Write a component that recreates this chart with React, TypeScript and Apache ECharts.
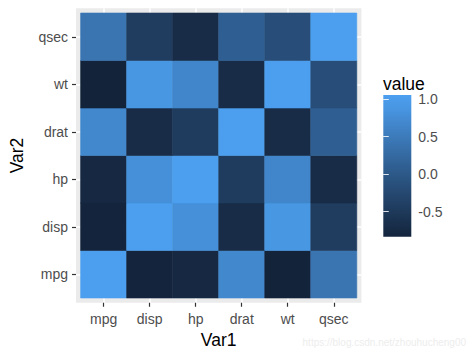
import React, { useEffect, useRef } from "react";
import * as echarts from "echarts";

const vars = ["mpg", "disp", "hp", "drat", "wt", "qsec"];
const corMpg = [1, -0.848, -0.776, 0.681, -0.868, 0.419];
const corDisp = [-0.848, 1, 0.791, -0.710, 0.888, -0.434];
const corHp = [-0.776, 0.791, 1, -0.449, 0.659, -0.708];
const corDrat = [0.681, -0.710, -0.449, 1, -0.712, 0.091];
const corWt = [-0.868, 0.888, 0.659, -0.712, 1, -0.175];
const corQsec = [0.419, -0.434, -0.708, 0.091, -0.175, 1];
const corRows = [corMpg, corDisp, corHp, corDrat, corWt, corQsec];
const legendTicks = [-0.5, 0, 0.5, 1];

const LOW = "#13233A";
const HIGH = "#4C9FEF";

function hexToRgb(h: string) {
  const n = parseInt(h.slice(1), 16);
  return [(n >> 16) & 255, (n >> 8) & 255, n & 255];
}
function toLin(c: number) {
  c /= 255;
  return c <= 0.04045 ? c / 12.92 : Math.pow((c + 0.055) / 1.055, 2.4);
}
function fromLin(c: number) {
  const v = c <= 0.0031308 ? 12.92 * c : 1.055 * Math.pow(c, 1 / 2.4) - 0.055;
  return Math.max(0, Math.min(255, Math.round(v * 255)));
}
const Xn = 0.95047, Yn = 1.0, Zn = 1.08883;
function f(t: number) {
  return t > 0.008856 ? Math.cbrt(t) : 7.787 * t + 16 / 116;
}
function finv(t: number) {
  return t * t * t > 0.008856 ? t * t * t : (t - 16 / 116) / 7.787;
}
function rgbToLab(rgb: number[]) {
  const [r, g, b] = rgb.map(toLin);
  const x = r * 0.4124 + g * 0.3576 + b * 0.1805;
  const y = r * 0.2126 + g * 0.7152 + b * 0.0722;
  const z = r * 0.0193 + g * 0.1192 + b * 0.9505;
  const fx = f(x / Xn), fy = f(y / Yn), fz = f(z / Zn);
  return [116 * fy - 16, 500 * (fx - fy), 200 * (fy - fz)];
}
function labToHex(lab: number[]) {
  const fy = (lab[0] + 16) / 116;
  const fx = fy + lab[1] / 500;
  const fz = fy - lab[2] / 200;
  const x = Xn * finv(fx), y = Yn * finv(fy), z = Zn * finv(fz);
  const r = x * 3.2406 + y * -1.5372 + z * -0.4986;
  const g = x * -0.9689 + y * 1.8758 + z * 0.0415;
  const b = x * 0.0557 + y * -0.204 + z * 1.057;
  const out = [fromLin(r), fromLin(g), fromLin(b)];
  return "#" + out.map((v) => v.toString(16).padStart(2, "0")).join("");
}
const labLow = rgbToLab(hexToRgb(LOW));
const labHigh = rgbToLab(hexToRgb(HIGH));
function ramp(t: number) {
  t = Math.max(0, Math.min(1, t));
  return labToHex(labLow.map((v, i) => v + (labHigh[i] - v) * t));
}

export default function App() {
  const ref = useRef<HTMLDivElement>(null);
  useEffect(() => {
    if (!ref.current) return;
    const chart = echarts.init(ref.current, null, { renderer: "svg" });
    const cells: number[][] = [];
    corRows.forEach((row, j) => {
      row.forEach((v, i) => {
        cells.push([i + 1, j + 1, v]);
      });
    });
    const all = corRows.flat();
    const vmin = Math.min(...all);
    const vmax = Math.max(...all);
    const barMin = -0.833;
    const barMax = 1.053;
    const stops = [];
    for (let k = 0; k <= 10; k++) {
      const off = k / 10;
      const val = barMax - off * (barMax - barMin);
      stops.push({ offset: off, color: ramp((val - vmin) / (vmax - vmin)) });
    }
    const tickCustom = [1, 2, 3, 4, 5, 6];
    const font = "Liberation Sans, Arial, sans-serif";
    chart.setOption({
      animation: false,
      backgroundColor: "#FFFFFF",
      textStyle: { fontFamily: font },
      grid: [
        {
          left: 72,
          top: 8.25,
          width: 289.4,
          height: 294.5,
          show: true,
          backgroundColor: "#EBEBEB",
          borderWidth: 0,
        },
        {
          left: 383.3,
          top: 95,
          width: 28,
          height: 141.7,
          show: true,
          borderWidth: 0,
          backgroundColor: {
            type: "linear",
            x: 0,
            y: 0,
            x2: 0,
            y2: 1,
            colorStops: stops,
          },
        },
      ],
      xAxis: [
        {
          type: "value",
          gridIndex: 0,
          min: 0.4,
          max: 6.6,
          axisLine: { show: false },
          axisTick: {
            show: true,
            customValues: tickCustom,
            length: 4,
            lineStyle: { color: "#333333", width: 1.2 },
          },
          axisLabel: {
            customValues: tickCustom,
            formatter: (v: number) => vars[Math.round(v) - 1] ?? "",
            color: "#4D4D4D",
            fontSize: 14,
            margin: 9,
            fontFamily: font,
          },
          splitLine: { show: true, lineStyle: { color: "#FFFFFF", width: 1.5 } },
          name: "Var1",
          nameLocation: "middle",
          nameGap: 26,
          nameTextStyle: { color: "#000000", fontSize: 17.5, fontFamily: font },
        },
        {
          type: "value",
          gridIndex: 1,
          min: 0,
          max: 1,
          show: false,
        },
      ],
      yAxis: [
        {
          type: "value",
          gridIndex: 0,
          min: 0.4,
          max: 6.6,
          axisLine: { show: false },
          axisTick: {
            show: true,
            customValues: tickCustom,
            length: 4,
            lineStyle: { color: "#333333", width: 1.2 },
          },
          axisLabel: {
            customValues: tickCustom,
            formatter: (v: number) => vars[Math.round(v) - 1] ?? "",
            color: "#4D4D4D",
            fontSize: 14,
            margin: 8,
            fontFamily: font,
          },
          splitLine: { show: true, lineStyle: { color: "#FFFFFF", width: 1.5 } },
          name: "Var2",
          nameLocation: "middle",
          nameGap: 50,
          nameTextStyle: { color: "#000000", fontSize: 17.5, fontFamily: font },
        },
        {
          type: "value",
          gridIndex: 1,
          position: "right",
          min: barMin,
          max: barMax,
          axisLine: { show: false },
          splitLine: { show: false },
          axisTick: {
            show: true,
            inside: true,
            length: 5.5,
            customValues: legendTicks,
            lineStyle: { color: "rgba(255,255,255,0.85)", width: 1 },
          },
          axisLabel: {
            customValues: legendTicks,
            formatter: (v: number) => v.toFixed(1),
            color: "#4D4D4D",
            fontSize: 14,
            margin: 7,
            fontFamily: font,
          },
        },
        {
          type: "value",
          gridIndex: 1,
          position: "left",
          min: barMin,
          max: barMax,
          axisLine: { show: false },
          splitLine: { show: false },
          axisLabel: { show: false },
          axisTick: {
            show: true,
            inside: true,
            length: 5.5,
            customValues: legendTicks,
            lineStyle: { color: "rgba(255,255,255,0.85)", width: 1 },
          },
        },
      ],
      graphic: [
        {
          type: "text",
          left: 383,
          top: 75,
          style: {
            text: "value",
            fill: "#000000",
            font: `17.5px ${font}`,
          },
        },
        {
          type: "text",
          right: 8,
          top: 337,
          style: {
            text: "https://blog.csdn.net/zhouhucheng00",
            fill: "#EDEDED",
            font: `10px ${font}`,
          },
        },
      ],
      series: [
        {
          type: "custom",
          xAxisIndex: 0,
          yAxisIndex: 0,
          data: cells,
          renderItem: (params: any, api: any) => {
            const x = api.value(0);
            const y = api.value(1);
            const v = api.value(2);
            const p0 = api.coord([x - 0.5, y + 0.5]);
            const p1 = api.coord([x + 0.5, y - 0.5]);
            const c = ramp((v - vmin) / (vmax - vmin));
            return {
              type: "rect",
              shape: {
                x: p0[0],
                y: p0[1],
                width: p1[0] - p0[0],
                height: p1[1] - p0[1],
              },
              style: { fill: c, stroke: c, lineWidth: 0.6 },
            };
          },
        },
      ],
    });
    return () => chart.dispose();
  }, []);
  return (
    <div
      ref={ref}
      style={{ position: "fixed", left: 0, top: 0, width: 474, height: 355 }}
    />
  );
}
